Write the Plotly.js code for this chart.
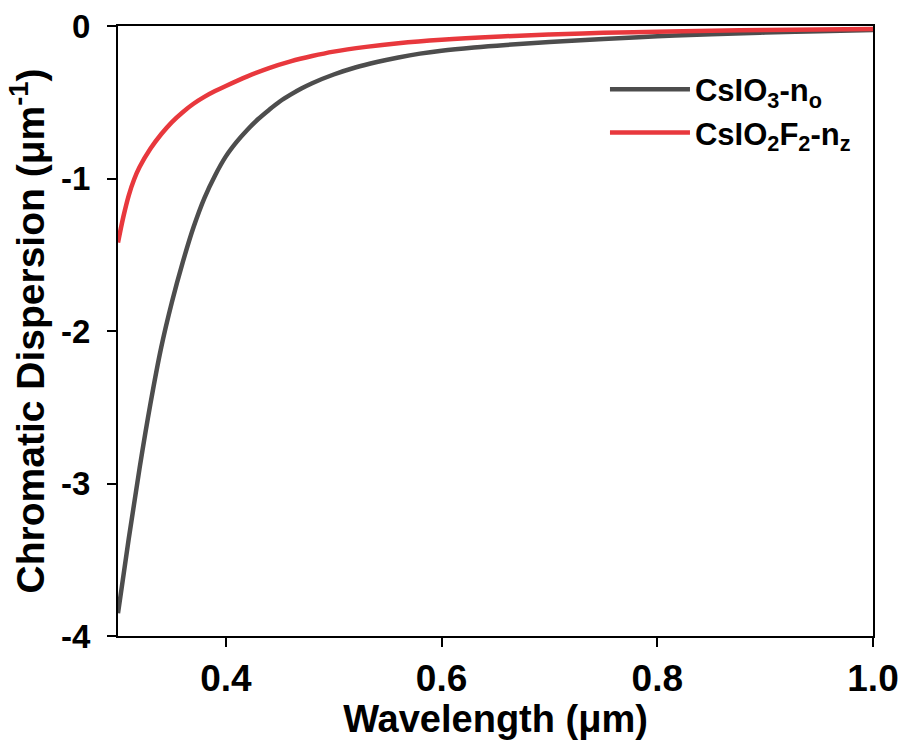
<!DOCTYPE html>
<html>
<head>
<meta charset="utf-8">
<script src="https://cdn.plot.ly/plotly-3.0.1.min.js"></script>
<style>html,body{margin:0;padding:0;background:#fff;}#chart{width:906px;height:740px;}</style>
</head>
<body>
<div id="chart"></div>
<script>
// Wavelength (µm) sample positions, CsIO3-no
const wavelengthGray = [0.30, 0.31, 0.32, 0.33, 0.34, 0.35, 0.36, 0.37, 0.38, 0.39, 0.40, 0.41, 0.42, 0.43, 0.44, 0.45, 0.46, 0.47, 0.48, 0.50, 0.52, 0.54, 0.56, 0.58, 0.60, 0.63, 0.66, 0.70, 0.75, 0.80, 0.85, 0.90, 0.95, 1.00];
// CsIO3-no chromatic dispersion (µm^-1)
const dispersionCsIO3 = [-3.85, -3.36, -2.90, -2.48, -2.11, -1.81, -1.55, -1.32, -1.13, -0.98, -0.855, -0.76, -0.68, -0.61, -0.55, -0.495, -0.45, -0.41, -0.375, -0.318, -0.272, -0.236, -0.206, -0.181, -0.162, -0.141, -0.124, -0.105, -0.085, -0.068, -0.054, -0.043, -0.034, -0.027];

// Wavelength (µm) sample positions, CsIO2F2-nz
const wavelengthRed = [0.300, 0.305, 0.310, 0.315, 0.320, 0.33, 0.34, 0.35, 0.36, 0.37, 0.38, 0.39, 0.40, 0.42, 0.44, 0.46, 0.48, 0.50, 0.53, 0.56, 0.60, 0.65, 0.70, 0.75, 0.80, 0.85, 0.90, 0.95, 1.00];
// CsIO2F2-nz chromatic dispersion (µm^-1)
const dispersionCsIO2F2 = [-1.42, -1.25, -1.11, -1.005, -0.925, -0.805, -0.71, -0.63, -0.565, -0.51, -0.465, -0.427, -0.393, -0.33, -0.276, -0.232, -0.197, -0.168, -0.137, -0.113, -0.090, -0.070, -0.056, -0.045, -0.037, -0.031, -0.026, -0.023, -0.020];

const seriesNames = ['CsIO<sub>3</sub>-n<sub>o</sub>', 'CsIO<sub>2</sub>F<sub>2</sub>-n<sub>z</sub>'];
const xTicks = [0.4, 0.6, 0.8, 1.0];
const yTicks = [-4, -3, -2, -1, 0];

const font = 'Liberation Sans, Arial, sans-serif';

const traces = [
  {x: wavelengthGray, y: dispersionCsIO3, name: seriesNames[0], type: 'scatter', mode: 'lines',
   line: {color: '#4d4d4d', width: 4.5, shape: 'spline', smoothing: 1}},
  {x: wavelengthRed, y: dispersionCsIO2F2, name: seriesNames[1], type: 'scatter', mode: 'lines',
   line: {color: '#e8383d', width: 4.5, shape: 'spline', smoothing: 1}}
];

const layout = {
  width: 906, height: 740,
  margin: {l: 118, r: 33, t: 26, b: 104},
  paper_bgcolor: '#fff', plot_bgcolor: '#fff',
  showlegend: true,
  legend: {x: 0.645, y: 0.94, xanchor: 'left', yanchor: 'top', bgcolor: 'rgba(0,0,0,0)',
           itemwidth: 80,
           font: {family: font, size: 31, color: '#000', weight: 'bold'}, tracegroupgap: 0},
  xaxis: {
    range: [0.3, 1.0], tickvals: xTicks, ticktext: xTicks.map(v => v.toFixed(1)),
    showgrid: false, zeroline: false, showline: true, mirror: true, linecolor: '#000', linewidth: 2,
    ticks: 'outside', ticklen: 9, tickwidth: 2, tickcolor: '#000', ticklabelstandoff: 0,
    tickfont: {family: font, size: 37, color: '#000', weight: 'bold'},
    title: {text: 'Wavelength (μm)', font: {family: font, size: 38, color: '#000', weight: 'bold'}, standoff: 2}
  },
  yaxis: {
    range: [-4, 0], tickvals: yTicks, ticktext: yTicks.map(v => String(v)),
    showgrid: false, zeroline: false, showline: true, mirror: true, linecolor: '#000', linewidth: 2,
    ticks: 'outside', ticklen: 9, tickwidth: 2, tickcolor: '#000', ticklabelstandoff: 10,
    tickfont: {family: font, size: 33, color: '#000', weight: 'bold'},
    title: {text: 'Chromatic Dispersion (μm<sup>-1</sup>)', font: {family: font, size: 39, color: '#000', weight: 'bold'}, standoff: 4}
  }
};

Plotly.newPlot('chart', traces, layout, {displayModeBar: false, staticPlot: true});
</script>
</body>
</html>
